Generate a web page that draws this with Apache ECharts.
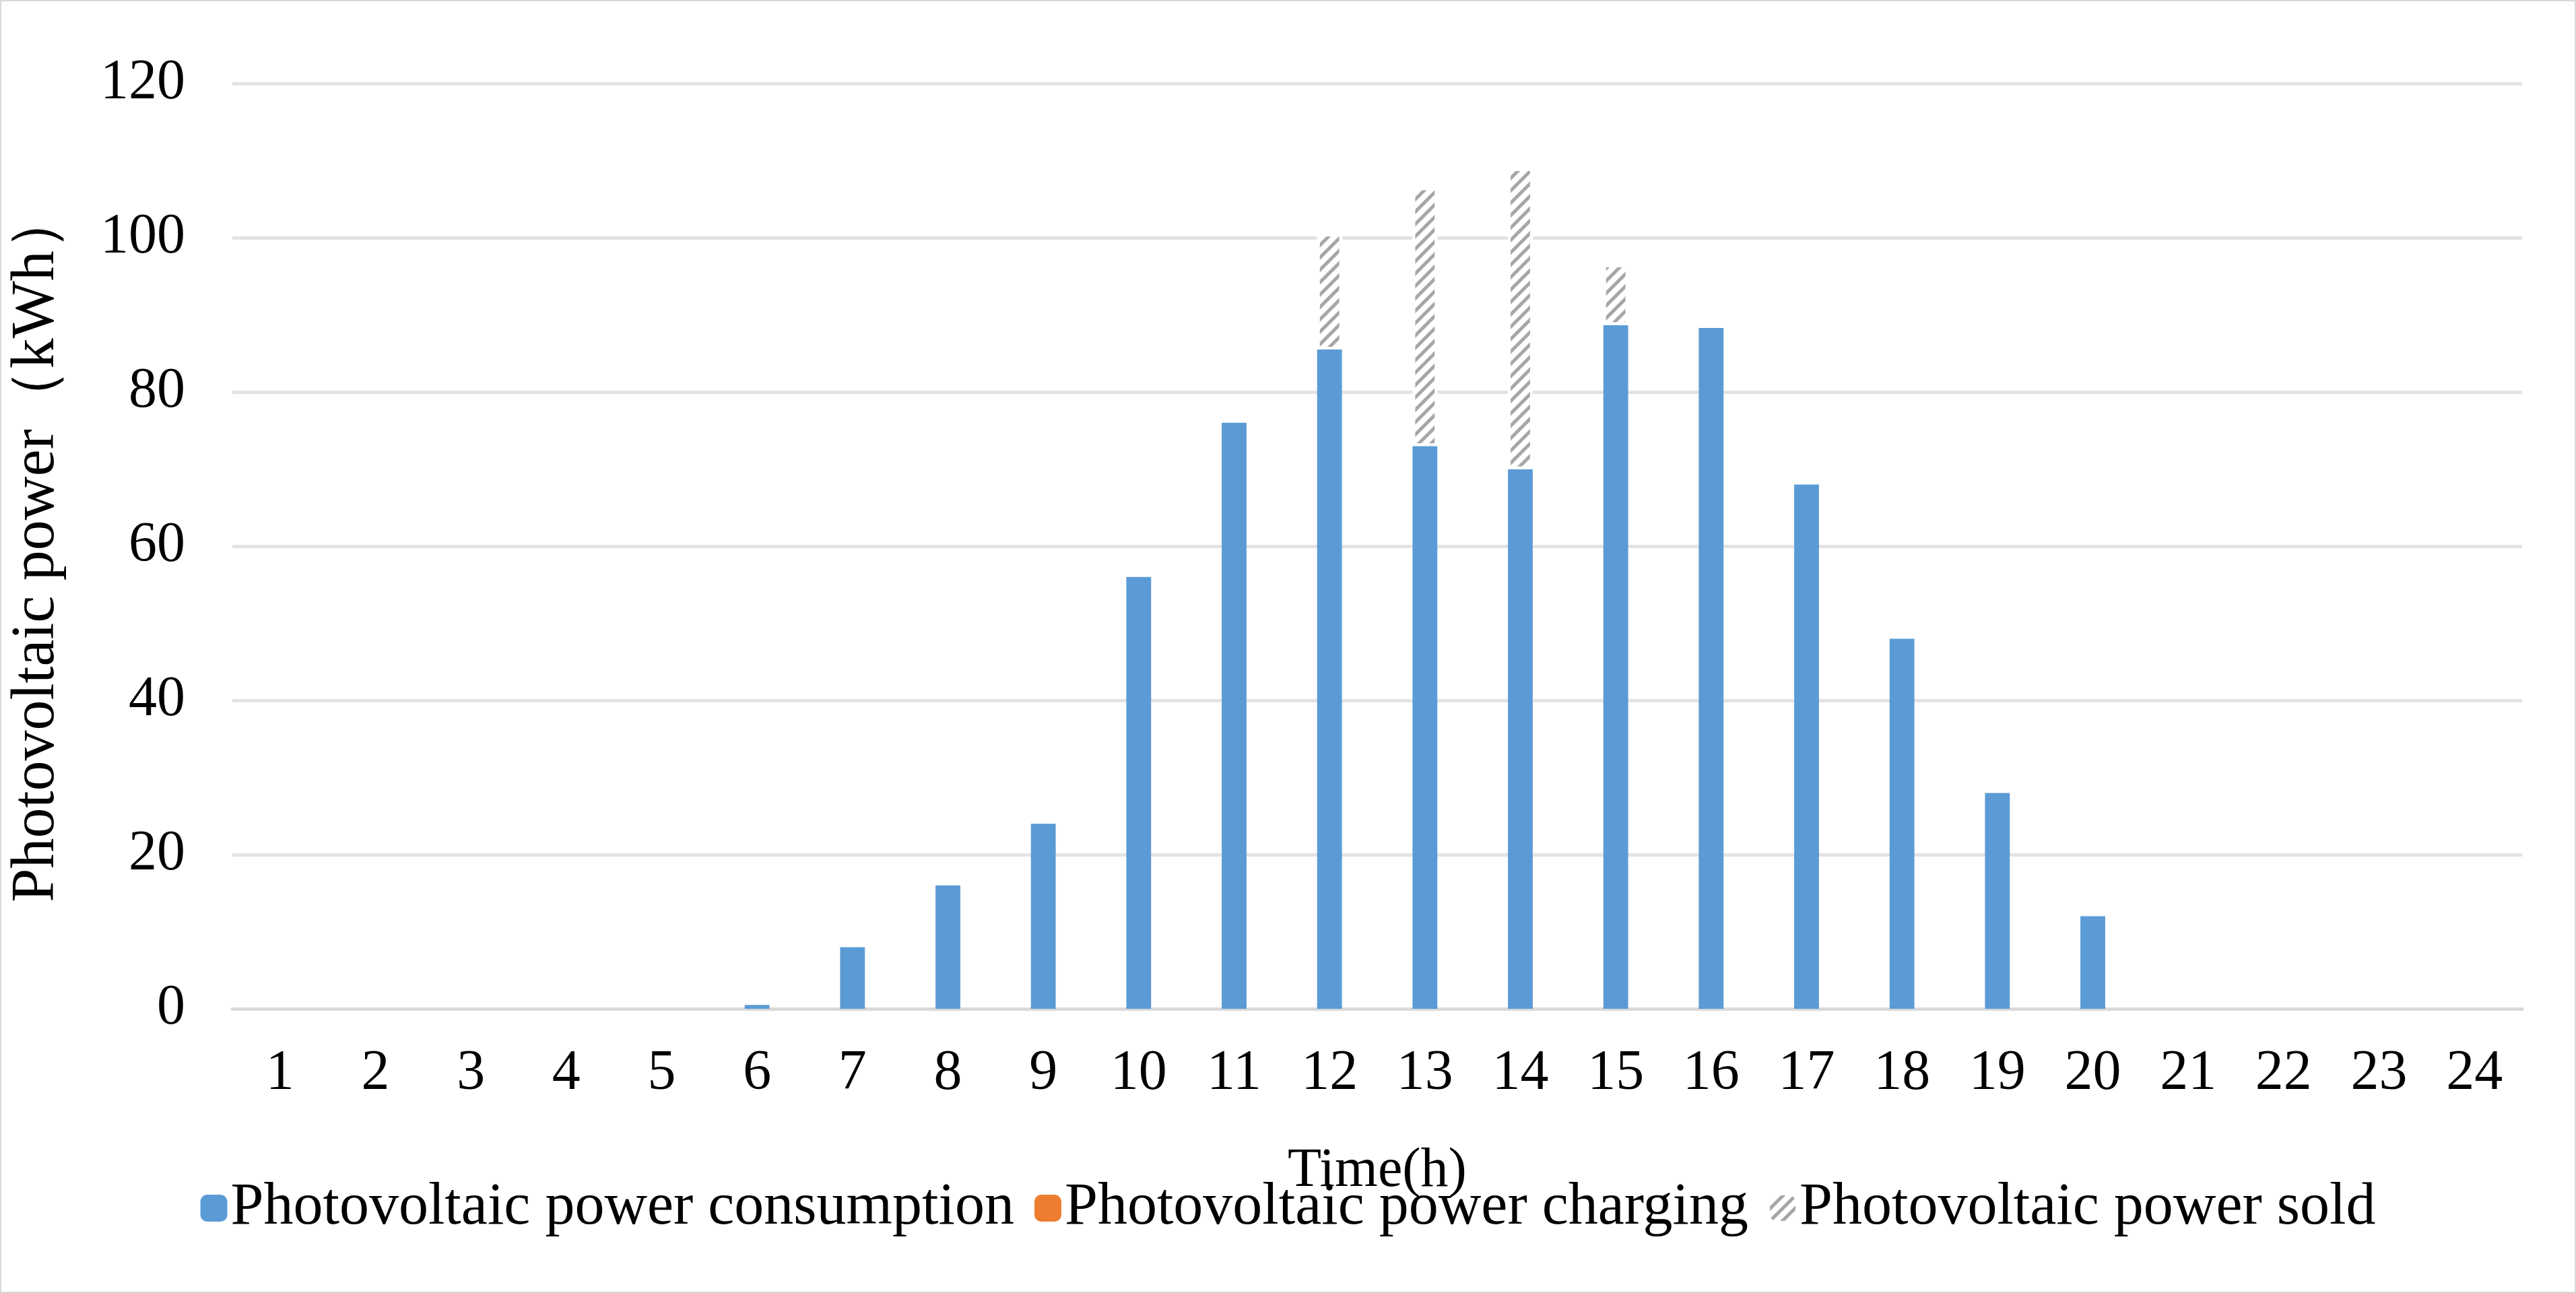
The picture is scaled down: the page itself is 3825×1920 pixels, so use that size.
<!DOCTYPE html>
<html><head><meta charset="utf-8">
<script src="https://cdn.jsdelivr.net/npm/echarts@6/dist/echarts.min.js"></script>
<style>html,body{margin:0;background:#fff}#c{width:3821px;height:1916px;border:2px solid #d9d9d9}</style>
</head><body><div id="c"></div>
<script>
var hours = ['1','2','3','4','5','6','7','8','9','10','11','12','13','14','15','16','17','18','19','20','21','22','23','24'];
var consumption = [0,0,0,0,0,0.5,8,16,24,56,76,85.5,73,70,88.7,88.3,68,48,28,12,0,0,0,0];
var charging = [0,0,0,0,0,0,0,0,0,0,0,0,0,0,0,0,0,0,0,0,0,0,0,0];
var sold = [0,0,0,0,0,0,0,0,0,0,0,15,33.5,39,7.8,0,0,0,0,0,0,0,0,0];

// zero-height bars should draw nothing
function noZero(arr) {
    return arr.map(function (v) { return v === 0 ? null : v; });
}

var font = 'Liberation Serif';
var chart = echarts.init(document.getElementById('c'));
chart.setOption({
    textStyle: {fontFamily: font},
    grid: {left: 335, right: 78, top: 122, bottom: 420},
    legend: {
        bottom: 75, left: 'center', itemWidth: 40, itemHeight: 40, itemGap: 30,
        textStyle: {fontSize: 88, color: '#000', fontFamily: font}
    },
    xAxis: {
        type: 'category', data: hours,
        name: 'Time(h)', nameLocation: 'middle', nameGap: 200,
        nameTextStyle: {fontSize: 82, color: '#000'},
        axisLine: {lineStyle: {color: '#d9d9d9', width: 5}},
        axisTick: {show: false},
        axisLabel: {fontSize: 84, color: '#000', margin: 55}
    },
    yAxis: {
        type: 'value', min: 0, max: 120, interval: 20,
        name: 'Photovoltaic power（kWh）', nameLocation: 'middle', nameGap: 245,
        nameTextStyle: {fontSize: 90, color: '#000'},
        splitLine: {lineStyle: {color: '#e3e3e3', width: 5}},
        axisLabel: {fontSize: 84, color: '#000', margin: 70}
    },
    series: [
        {name: 'Photovoltaic power consumption', type: 'bar', stack: 'pv', data: noZero(consumption),
         barWidth: '26%', itemStyle: {color: '#5b9bd5'}},
        {name: 'Photovoltaic power charging', type: 'bar', stack: 'pv', data: noZero(charging),
         itemStyle: {color: '#ed7d31'}},
        {name: 'Photovoltaic power sold', type: 'bar', stack: 'pv', data: noZero(sold),
         itemStyle: {color: '#ffffff', borderColor: '#ffffff', borderWidth: 4,
             decal: {color: '#a6a6a6', backgroundColor: '#ffffff', symbol: 'rect',
                 dashArrayX: [1, 0], dashArrayY: [5, 8], rotation: -Math.PI / 4}}}
    ]
});
</script></body></html>
